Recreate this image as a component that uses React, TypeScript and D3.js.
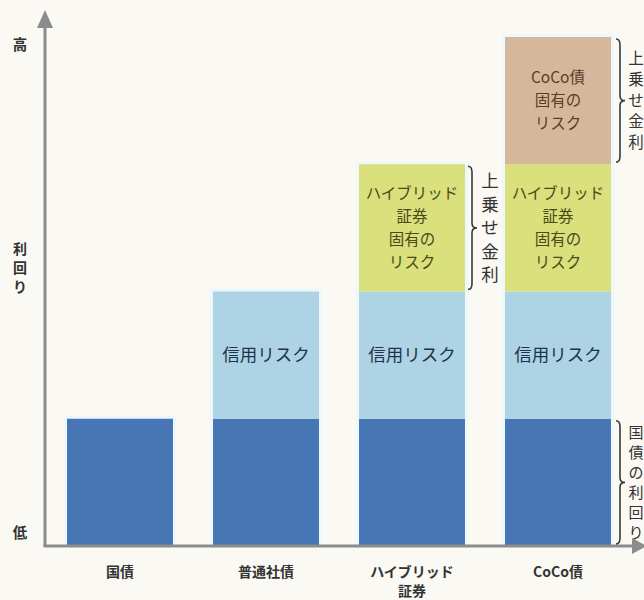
import React from "react";
import * as d3 from "d3";

const categories = ["国債", "普通社債", "ハイブリッド\n証券", "CoCo債"];
const layerKeys = ["base", "credit", "hybrid", "coco"];
const baseValues = [1, 1, 1, 1];
const creditValues = [0, 1, 1, 1];
const hybridValues = [0, 0, 1, 1];
const cocoValues = [0, 0, 0, 1];
const layerLabels: Record<string, string[]> = {
  base: [],
  credit: ["信用リスク"],
  hybrid: ["ハイブリッド", "証券", "固有の", "リスク"],
  coco: ["CoCo債", "固有の", "リスク"],
};
const layerColors: Record<string, string> = {
  base: "#4776b5",
  credit: "#aed3e4",
  hybrid: "#d9e07c",
  coco: "#d5b89c",
};
const layerTextColors: Record<string, string> = {
  base: "#fff",
  credit: "#1e3350",
  hybrid: "#4a4a18",
  coco: "#5a3d28",
};
const yLabelTop = "高";
const yLabelMid = "利回り";
const yLabelBottom = "低";
// brace annotations: category index, layer range, text
const braces = [
  { cat: 2, from: 2, to: 2, text: "上乗せ金利" },
  { cat: 3, from: 3, to: 3, text: "上乗せ金利" },
  { cat: 3, from: 0, to: 0, text: "国債の利回り" },
];

const W = 644;
const H = 600;
const FONT = "'Noto Sans CJK JP', 'Noto Sans', sans-serif";

export default function App() {
  const rows = categories.map((c, i) => ({
    cat: c,
    base: baseValues[i],
    credit: creditValues[i],
    hybrid: hybridValues[i],
    coco: cocoValues[i],
  }));
  const stack = d3.stack<any>().keys(layerKeys)(rows);

  const x = d3
    .scaleBand<string>()
    .domain(categories)
    .range([47, 631])
    .paddingInner(0.274)
    .paddingOuter(0.137);
  const y = d3.scaleLinear().domain([0, 4]).range([546, 37]);

  const axisX = 45;
  const axisY = 546;
  const axisColor = "#8c8c8c";

  const bracePath = (bx: number, y0: number, y1: number) => {
    const ym = (y0 + y1) / 2;
    return `M${bx - 4},${y0} Q${bx},${y0} ${bx},${y0 + 6} L${bx},${ym - 5} Q${bx},${ym} ${bx + 5},${ym} Q${bx},${ym} ${bx},${ym + 5} L${bx},${y1 - 6} Q${bx},${y1} ${bx - 4},${y1}`;
  };

  return (
    <div style={{ position: "absolute", left: 0, top: 0 }}>
      <svg width={W} height={H} style={{ display: "block", background: "#fbf9f4" }}>
        {/* bar halos */}
        {rows.map((r, i) => {
          const total = layerKeys.reduce((s, k) => s + (r as any)[k], 0);
          return (
            <rect
              key={"halo" + i}
              x={x(r.cat)! - 3}
              y={y(total) - 3}
              width={x.bandwidth() + 6}
              height={y(0) - y(total) + 3}
              fill="#eef8fa"
            />
          );
        })}
        {/* bars */}
        {stack.map((layer) =>
          layer.map((d, i) => {
            if (d[1] - d[0] <= 0) return null;
            const bx = x(categories[i])!;
            return (
              <rect
                key={layer.key + i}
                x={bx}
                y={y(d[1])}
                width={x.bandwidth()}
                height={y(d[0]) - y(d[1])}
                fill={layerColors[layer.key]}
              />
            );
          })
        )}
        {/* bar labels */}
        {stack.map((layer) =>
          layer.map((d, i) => {
            if (d[1] - d[0] <= 0) return null;
            const lines = layerLabels[layer.key];
            if (!lines.length) return null;
            const cx = x(categories[i])! + x.bandwidth() / 2;
            const cy = (y(d[0]) + y(d[1])) / 2;
            const lh = layer.key === "credit" ? 0 : 23;
            const fs = layer.key === "credit" ? 17.5 : 15.5;
            return (
              <text
                key={"t" + layer.key + i}
                x={cx}
                textAnchor="middle"
                fontFamily={FONT}
                fontSize={fs}
                fill={layerTextColors[layer.key]}
              >
                {lines.map((ln, j) => (
                  <tspan
                    key={j}
                    x={cx}
                    y={cy + (j - (lines.length - 1) / 2) * lh + fs * 0.36}
                  >
                    {ln}
                  </tspan>
                ))}
              </text>
            );
          })
        )}
        {/* axes */}
        <line x1={axisX} y1={24} x2={axisX} y2={axisY} stroke={axisColor} strokeWidth={3} />
        <path d={`M${axisX},10 L${axisX + 8},28 L${axisX - 8},28 Z`} fill={axisColor} />
        <line x1={axisX - 1.5} y1={axisY} x2={634} y2={axisY} stroke={axisColor} strokeWidth={3} />
        <path d={`M647,${axisY} L632,${axisY - 8} L632,${axisY + 8} Z`} fill={axisColor} />
        {/* y labels */}
        <text x={20} y={50} textAnchor="middle" fontFamily={FONT} fontSize={14.5} fontWeight="bold" fill="#333">
          {yLabelTop}
        </text>
        {yLabelMid.split("").map((ch, j) => (
          <text
            key={"ym" + j}
            x={20}
            y={254 + j * 19}
            textAnchor="middle"
            fontFamily={FONT}
            fontSize={14}
            fontWeight="bold"
            fill="#333"
          >
            {ch}
          </text>
        ))}
        <text x={20} y={538} textAnchor="middle" fontFamily={FONT} fontSize={14.5} fontWeight="bold" fill="#333">
          {yLabelBottom}
        </text>
        {/* category labels */}
        {categories.map((c) => {
          const cx = x(c)! + x.bandwidth() / 2;
          const lines = c.split("\n");
          return (
            <text key={"c" + c} textAnchor="middle" fontFamily={FONT} fontSize={14} fontWeight="bold" fill="#333">
              {lines.map((ln, j) => (
                <tspan key={j} x={cx} y={577 + j * 19}>
                  {ln}
                </tspan>
              ))}
            </text>
          );
        })}
        {/* braces */}
        {braces.map((b, i) => {
          const y0 = y(stack[b.to][b.cat][1]);
          const y1 = y(stack[b.from][b.cat][0]);
          const bx = x(categories[b.cat])! + x.bandwidth() + (b.cat === 3 ? 9 : 7);
          const chars = b.text.split("");
          const tx = b.cat === 3 ? 636 : 490;
          const fs = b.cat === 3 ? (chars.length === 6 ? 15 : 15.5) : 17.5;
          const step = b.cat === 3 ? (chars.length === 6 ? 20 : 21) : 23.5;
          const ym = (y0 + y1) / 2;
          return (
            <g key={"b" + i}>
              <path d={bracePath(bx, y0 + 2, y1 - 2)} fill="none" stroke="#3a3a3a" strokeWidth={1.6} />
              {chars.map((ch, j) => (
                <text
                  key={j}
                  x={tx}
                  y={ym + (j - (chars.length - 1) / 2) * step + fs * 0.36}
                  textAnchor="middle"
                  fontFamily={FONT}
                  fontSize={fs}
                  fill="#333"
                >
                  {ch}
                </text>
              ))}
            </g>
          );
        })}
      </svg>
    </div>
  );
}
